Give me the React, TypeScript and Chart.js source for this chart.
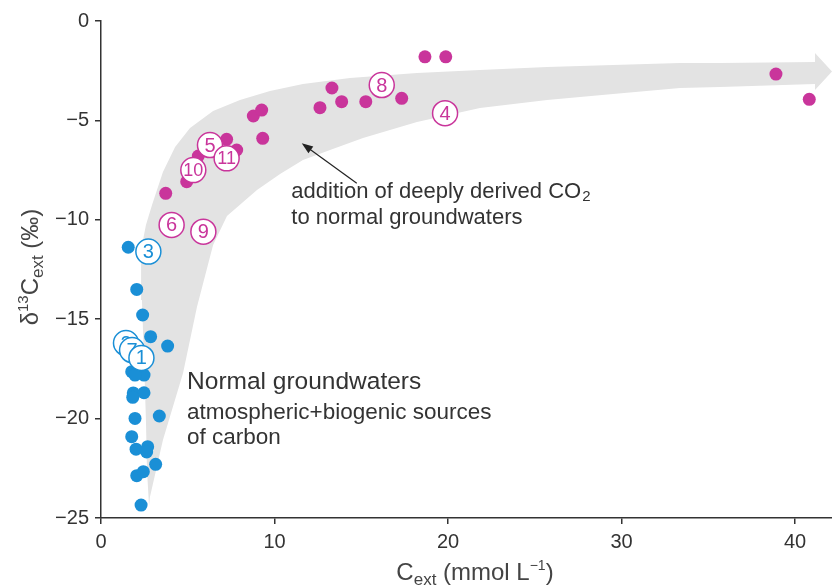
import React, { useEffect, useRef } from 'react';
import { Chart, registerables } from 'chart.js';

Chart.register(...registerables);

// ---- data ----
const blueX = [1.57, 2.06, 2.40, 2.86, 3.84, 1.77, 2.48, 1.96, 1.86, 2.48, 1.83, 1.96, 3.36, 1.77, 2.02, 2.69, 2.63, 3.15, 2.06, 2.44, 2.31];
const blueY = [-11.38, -13.5, -14.79, -15.88, -16.35, -17.64, -17.81, -17.81, -18.71, -18.7, -18.93, -19.99, -19.87, -20.91, -21.54, -21.41, -21.68, -22.3, -22.87, -22.67, -24.35];

const magX = [3.73, 4.94, 5.61, 7.24, 7.82, 8.78, 9.26, 9.32, 12.62, 13.31, 13.87, 15.26, 17.33, 18.67, 19.87, 38.9, 40.82];
const magY = [-8.67, -8.08, -6.79, -5.95, -6.49, -4.78, -4.48, -5.9, -4.36, -3.37, -4.06, -4.06, -3.89, -1.8, -1.8, -2.67, -3.94];

const blueLabels = ['3', '2', '7', '1'];
const blueLabelX = [2.73, 1.44, 1.79, 2.33];
const blueLabelY = [-11.6, -16.2, -16.55, -16.95];

const magLabels = ['6', '9', '10', '5', '11', '8', '4'];
const magLabelX = [4.07, 5.9, 5.32, 6.28, 7.24, 16.18, 19.83];
const magLabelY = [-10.26, -10.6, -7.5, -6.24, -6.91, -3.22, -4.64];

// outline of the grey "trend" arrow (x, y in data units)
const bandX = [2.77, 2.65, 2.59, 2.48, 2.36, 2.31, 2.59, 2.94, 3.57, 4.27, 5.13, 6.46, 8.01, 9.74, 11.64, 14.35, 18.21, 21.84, 25.71, 29.51, 33.37, 35.68, 41.15, 41.15, 42.13, 41.15, 41.15, 35.68, 33.37, 29.51, 25.71, 21.84, 18.21, 15.1, 13.2, 11.64, 10.32, 8.99, 7.26, 6.46, 5.53, 4.73, 3.57, 2.82];
const bandY = [-24.4, -22.59, -20.07, -17.05, -14.03, -11.52, -10.26, -9.26, -7.6, -6.34, -5.38, -4.53, -3.97, -3.52, -3.17, -2.87, -2.62, -2.46, -2.31, -2.21, -2.11, -2.11, -2.06, -1.61, -2.54, -3.47, -3.17, -3.32, -3.37, -3.67, -3.97, -4.38, -5.08, -5.89, -6.49, -6.99, -7.7, -8.5, -9.81, -11.27, -14.39, -17.71, -21.08, -23.94];

const xTicks = [0, 10, 20, 30, 40];
const yTicks = [-25, -20, -15, -10, -5, 0];

const BLUE = '#1a8fd6';
const MAGENTA = '#c9359b';
const BAND = '#e3e3e3';
const TEXT = '#333333';
const FONT = "Arial, 'Liberation Sans', sans-serif";

const minus = (v: number) => (v < 0 ? '\u2212' + Math.abs(v) : String(v));

type Part = [string, number, number];

function drawRich(ctx: CanvasRenderingContext2D, parts: Part[], x: number, y: number, color: string) {
  let total = 0;
  for (const [t, s] of parts) {
    ctx.font = `${s}px ${FONT}`;
    total += ctx.measureText(t).width;
  }
  let cx = x - total / 2;
  ctx.fillStyle = color;
  ctx.textAlign = 'left';
  ctx.textBaseline = 'alphabetic';
  for (const [t, s, dy] of parts) {
    ctx.font = `${s}px ${FONT}`;
    ctx.fillText(t, cx, y + dy);
    cx += ctx.measureText(t).width;
  }
}

const overlayPlugin = {
  id: 'overlay',
  afterDatasetsDraw(chart: any) {
    const ctx: CanvasRenderingContext2D = chart.ctx;
    const xs = chart.scales.x;
    const ys = chart.scales.y;
    const px = (v: number) => xs.getPixelForValue(v);
    const py = (v: number) => ys.getPixelForValue(v);

    ctx.save();
    // annotation arrow
    const x0 = px(14.74), y0 = py(-8.16);
    const x1 = px(11.57), y1 = py(-6.15);
    ctx.strokeStyle = '#222';
    ctx.lineWidth = 1.2;
    const ang = Math.atan2(y1 - y0, x1 - x0);
    const hl = 12;
    ctx.beginPath();
    ctx.moveTo(x0, y0);
    ctx.lineTo(x1 - Math.cos(ang) * hl * 0.8, y1 - Math.sin(ang) * hl * 0.8);
    ctx.stroke();
    ctx.fillStyle = '#222';
    ctx.beginPath();
    ctx.moveTo(x1, y1);
    ctx.lineTo(x1 - hl * Math.cos(ang - 0.35), y1 - hl * Math.sin(ang - 0.35));
    ctx.lineTo(x1 - hl * Math.cos(ang + 0.35), y1 - hl * Math.sin(ang + 0.35));
    ctx.closePath();
    ctx.fill();

    // texts
    ctx.fillStyle = TEXT;
    ctx.textAlign = 'left';
    ctx.textBaseline = 'middle';
    ctx.font = `22px ${FONT}`;
    const ax = px(10.97);
    ctx.fillText('addition of deeply derived CO', ax, py(-8.6));
    const w = ctx.measureText('addition of deeply derived CO').width;
    ctx.font = `15px ${FONT}`;
    ctx.fillText('2', ax + w + 1, py(-8.6) + 5);
    ctx.font = `22px ${FONT}`;
    ctx.fillText('to normal groundwaters', ax, py(-9.92));

    const nx = px(4.96);
    ctx.font = `24.5px ${FONT}`;
    ctx.fillText('Normal groundwaters', nx, py(-18.16));
    ctx.font = `22.5px ${FONT}`;
    ctx.fillText('atmospheric+biogenic sources', nx, py(-19.72));
    ctx.fillText('of carbon', nx, py(-20.98));

    // numbered circles
    const drawLabels = (labels: string[], lx: number[], ly: number[], color: string) => {
      labels.forEach((lab, i) => {
        const cx = px(lx[i]);
        const cy = py(ly[i]);
        ctx.beginPath();
        ctx.arc(cx, cy, 12.5, 0, Math.PI * 2);
        ctx.fillStyle = '#ffffff';
        ctx.fill();
        ctx.lineWidth = 1.5;
        ctx.strokeStyle = color;
        ctx.stroke();
        ctx.fillStyle = color;
        ctx.font = `${lab.length > 1 ? 18 : 20}px ${FONT}`;
        ctx.textAlign = 'center';
        ctx.textBaseline = 'middle';
        ctx.fillText(lab, cx, cy + 1);
      });
    };
    drawLabels(blueLabels, blueLabelX, blueLabelY, BLUE);
    drawLabels(magLabels, magLabelX, magLabelY, MAGENTA);
    ctx.restore();
  },
  afterDraw(chart: any) {
    const ctx: CanvasRenderingContext2D = chart.ctx;
    ctx.save();
    // x title
    drawRich(ctx, [['C', 24, 0], ['ext', 17, 5], [' (mmol L', 24, 0], ['\u22121', 14, -10], [')', 24, 0]], 475, 580, '#444');
    // y title
    ctx.translate(38, 267);
    ctx.rotate(-Math.PI / 2);
    drawRich(ctx, [['\u03b4', 24, 0], ['13', 15, -10], ['C', 24, 0], ['ext', 17, 5], [' (\u2030)', 24, 0]], 0, 0, '#444');
    ctx.restore();
  },
};

export default function App() {
  const ref = useRef<HTMLCanvasElement | null>(null);
  useEffect(() => {
    if (!ref.current) return;
    const chart = new Chart(ref.current, {
      type: 'scatter',
      data: {
        datasets: [
          {
            type: 'line',
            data: bandX.map((x, i) => ({ x, y: bandY[i] })),
            showLine: true,
            borderWidth: 0,
            borderColor: 'rgba(0,0,0,0)',
            backgroundColor: BAND,
            pointRadius: 0,
            tension: 0,
            fill: 'shape',
            order: 10,
          } as any,
          {
            data: blueX.map((x, i) => ({ x, y: blueY[i] })),
            backgroundColor: BLUE,
            borderColor: BLUE,
            borderWidth: 0,
            pointRadius: 6.5,
            order: 5,
          },
          {
            data: magX.map((x, i) => ({ x, y: magY[i] })),
            backgroundColor: MAGENTA,
            borderColor: MAGENTA,
            borderWidth: 0,
            pointRadius: 6.5,
            order: 4,
          },
        ],
      },
      options: {
        animation: false,
        responsive: false,
        layout: { autoPadding: false, padding: { top: 21, left: 0, right: 0, bottom: 0 } },
        plugins: { legend: { display: false }, tooltip: { enabled: false } },
        scales: {
          x: {
            type: 'linear',
            min: 0,
            max: 42.13,
            afterFit: (s: any) => { s.height = 68; s.paddingRight = 0; s.paddingLeft = 0; },
            afterBuildTicks: (s: any) => { s.ticks = xTicks.map((v) => ({ value: v })); },
            grid: { drawOnChartArea: false, drawTicks: true, tickLength: 6, color: '#333', lineWidth: 1.5 },
            border: { display: true, color: '#333', width: 1.5 },
            ticks: { font: { family: FONT, size: 20 }, color: TEXT, padding: 6, maxRotation: 0, callback: (v: any) => minus(Number(v)) },
          },
          y: {
            type: 'linear',
            min: -25,
            max: 0,
            afterFit: (s: any) => { s.width = 101; s.paddingTop = 0; s.paddingBottom = 0; },
            afterBuildTicks: (s: any) => { s.ticks = yTicks.map((v) => ({ value: v })); },
            grid: { drawOnChartArea: false, drawTicks: true, tickLength: 6, color: '#333', lineWidth: 1.5 },
            border: { display: true, color: '#333', width: 1.5 },
            ticks: { font: { family: FONT, size: 20 }, color: TEXT, padding: 6, callback: (v: any) => minus(Number(v)) },
          },
        },
      },
      plugins: [overlayPlugin],
    } as any);
    return () => chart.destroy();
  }, []);
  return (
    <div style={{ position: 'absolute', left: 0, top: 0, width: 832, height: 586, background: '#fff' }}>
      <canvas ref={ref} width={832} height={586} style={{ display: 'block', width: 832, height: 586 }} />
    </div>
  );
}
